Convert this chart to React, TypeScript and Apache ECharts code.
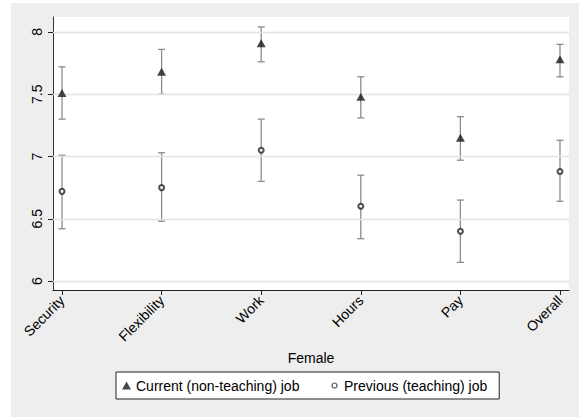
import React, { useEffect, useRef } from "react";
import * as echarts from "echarts";

const categories = ["Security", "Flexibility", "Work", "Hours", "Pay", "Overall"];
const currentMean = [7.51, 7.68, 7.91, 7.48, 7.15, 7.78];
const currentLow = [7.30, 7.50, 7.76, 7.31, 6.97, 7.64];
const currentHigh = [7.72, 7.86, 8.04, 7.64, 7.32, 7.90];
const previousMean = [6.72, 6.75, 7.05, 6.60, 6.40, 6.88];
const previousLow = [6.42, 6.48, 6.80, 6.34, 6.15, 6.64];
const previousHigh = [7.01, 7.03, 7.30, 6.85, 6.65, 7.13];
const yTicks = [6, 6.5, 7, 7.5, 8];
const xTicks = [0, 1, 2, 3, 4, 5];

const FONT = "'Liberation Sans', Arial, Helvetica, sans-serif";

export default function App() {
  const ref = useRef<HTMLDivElement>(null);
  useEffect(() => {
    if (!ref.current) return;
    const chart = echarts.init(ref.current, null, { renderer: "svg" });
    const errData: number[][] = [];
    categories.forEach((_, i) => {
      errData.push([i, currentLow[i], currentHigh[i]]);
      errData.push([i, previousLow[i], previousHigh[i]]);
    });
    const renderErr = (params: any, api: any) => {
      const x = api.value(0);
      const lo = api.coord([x, api.value(1)]);
      const hi = api.coord([x, api.value(2)]);
      const hw = 3.5;
      const style = { stroke: "#8c8c8c", lineWidth: 1.3, fill: "none" };
      return {
        type: "group",
        children: [
          { type: "line", shape: { x1: lo[0], y1: lo[1], x2: hi[0], y2: hi[1] }, style },
          { type: "line", shape: { x1: hi[0] - hw, y1: hi[1], x2: hi[0] + hw, y2: hi[1] }, style },
          { type: "line", shape: { x1: lo[0] - hw, y1: lo[1], x2: lo[0] + hw, y2: lo[1] }, style },
        ],
      };
    };
    chart.setOption({
      animation: false,
      backgroundColor: "#eeeeee",
      textStyle: { fontFamily: FONT },
      grid: {
        left: 42,
        right: 10,
        top: 14,
        bottom: 127,
        show: true,
        backgroundColor: "#ffffff",
        borderWidth: 0,
      },
      xAxis: {
        type: "value",
        min: -0.0905,
        max: 5.0905,
        name: "Female",
        nameLocation: "middle",
        nameGap: 58,
        nameTextStyle: { fontSize: 14, color: "#000", fontFamily: FONT },
        axisLine: { show: true, onZero: false, lineStyle: { color: "#222", width: 1 } },
        axisTick: { show: true, length: 5, customValues: xTicks, lineStyle: { color: "#222" } },
        axisLabel: {
          customValues: xTicks,
          rotate: 45,
          margin: 8,
          fontSize: 14,
          color: "#000",
          fontFamily: FONT,
          hideOverlap: false,
          formatter: (v: number) => categories[Math.round(v)] ?? "",
        },
        splitLine: { show: false },
      },
      yAxis: {
        type: "value",
        min: 5.928,
        max: 8.12,
        axisLine: { show: true, onZero: false, lineStyle: { color: "#333", width: 1 } },
        axisTick: { show: true, length: 5, customValues: yTicks, lineStyle: { color: "#222" } },
        axisLabel: {
          customValues: yTicks,
          rotate: 90,
          margin: 9,
          fontSize: 14,
          color: "#000",
          fontFamily: FONT,
          formatter: (v: number) => String(v),
        },
        splitLine: { show: false },
      },
      legend: {
        left: 105,
        top: 369,
        orient: "horizontal",
        backgroundColor: "#ffffff",
        borderColor: "#222",
        borderWidth: 1,
        borderRadius: 0,
        padding: [5, 12, 5, 6],
        itemWidth: 9,
        itemHeight: 8,
        itemGap: 30,
        textStyle: { fontSize: 14, color: "#000", fontFamily: FONT, lineHeight: 17 },
        data: [
          {
            name: "Current (non-teaching) job",
            icon: "triangle",
            itemStyle: { color: "#1a1a1a", borderWidth: 0 },
          },
          {
            name: "Previous (teaching) job",
            icon: "path://M0,0L0.01,0M9,8L8.99,8M4.5,1.5A2.5,2.5,0,1,1,4.49,1.5Z",
            itemStyle: { color: "#ffffff", borderColor: "#222", borderWidth: 1.2 },
          },
        ],
      },
      series: [
        {
          name: "grid",
          type: "scatter",
          data: [],
          silent: true,
          markLine: {
            silent: true,
            symbol: "none",
            label: { show: false },
            lineStyle: { color: "#e4e4e4", width: 1.3, type: "solid" },
            data: yTicks.map((v) => ({ yAxis: v })),
          },
        },
        {
          name: "errorbars",
          type: "custom",
          renderItem: renderErr,
          data: errData,
          encode: { x: 0, y: [1, 2] },
          silent: true,
          z: 3,
        },
        {
          name: "Current (non-teaching) job",
          type: "scatter",
          symbol: "triangle",
          symbolSize: [9, 8],
          itemStyle: { color: "#1a1a1a" },
          data: currentMean.map((v, i) => [i, v]),
          z: 5,
        },
        {
          name: "Previous (teaching) job",
          type: "scatter",
          symbol: "emptyCircle",
          symbolSize: 5,
          itemStyle: { color: "#222", borderColor: "#222", borderWidth: 1.2 },
          data: previousMean.map((v, i) => [i, v]),
          z: 5,
        },
      ],
    });
    return () => chart.dispose();
  }, []);
  return (
    <div
      style={{
        position: "fixed",
        left: 0,
        top: 0,
        width: 582,
        height: 417,
        background: "#ffffff",
      }}
    >
      <div
        ref={ref}
        style={{ position: "absolute", left: 11, top: 3, width: 568, height: 414 }}
      />
    </div>
  );
}
